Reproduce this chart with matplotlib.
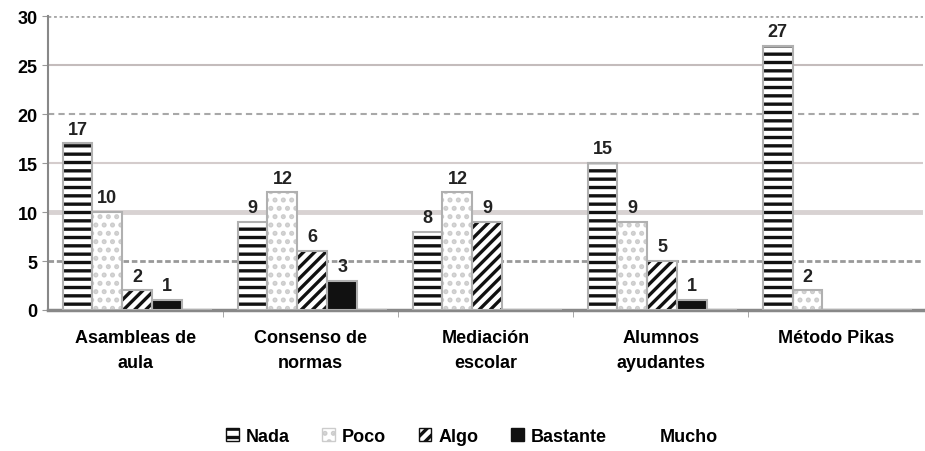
import numpy as np
import matplotlib
matplotlib.use("Agg")
import matplotlib.pyplot as plt
from matplotlib.patches import Patch

plt.rcParams['font.family'] = ['Liberation Sans', 'DejaVu Sans']
plt.rcParams['hatch.linewidth'] = 2.4

categorias = ['Asambleas de\naula', 'Consenso de\nnormas', 'Mediación\nescolar',
              'Alumnos\nayudantes', 'Método Pikas']
series = ['Nada', 'Poco', 'Algo', 'Bastante', 'Mucho']
nada = [17, 9, 8, 15, 27]
poco = [10, 12, 12, 9, 2]
algo = [2, 6, 9, 5, 0]
bastante = [1, 3, 0, 1, 0]
mucho = [0, 0, 0, 0, 0]
valores = [nada, poco, algo, bastante, mucho]

estilos = [
    dict(facecolor='white', hatch='--', edgecolor='#111111'),
    dict(facecolor='white', hatch='..', edgecolor='#cccccc'),
    dict(facecolor='white', hatch='///', edgecolor='#111111'),
    dict(facecolor='#111111', hatch=None, edgecolor='#111111'),
    dict(facecolor='white', hatch=None, edgecolor='white'),
]

fig = plt.figure(figsize=(9.25, 4.52), dpi=100)
ax = fig.add_axes([0.052, 0.312, 0.946, 0.650])

x = np.arange(len(categorias))
ancho = 0.171
for i, (nombre, vals, st) in enumerate(zip(series, valores, estilos)):
    pos = x + (i - 2) * ancho + 0.01
    bars = ax.bar(pos, vals, ancho, linewidth=0, zorder=3, **st)
    # borde gris de cada barra
    ax.bar(pos, vals, ancho, fill=False, edgecolor='#b0b0b0', linewidth=1.5, zorder=4)
    for b, v in zip(bars, vals):
        if v > 0:
            ax.text(b.get_x() + b.get_width() / 2, v + 0.6, str(v), ha='center', va='bottom',
                    fontsize=13, fontweight='bold', color='#222222')

ax.set_xlim(-0.5, len(categorias) - 0.5)
ax.set_ylim(0, 30)
ax.set_yticks(np.arange(0, 31, 5))

# lineas de cuadricula con estilos distintos como en el original
rejilla = {
    30: dict(color='#a8a8a8', linewidth=2, linestyle=(0, (1, 1))),
    25: dict(color='#c4bcbc', linewidth=1.5, linestyle='-'),
    20: dict(color='#a8a8a8', linewidth=1.5, linestyle=(0, (3, 2))),
    15: dict(color='#d4cccc', linewidth=1.5, linestyle='-'),
    10: dict(color='#d8d2d2', linewidth=3.5, linestyle='-'),
    5: dict(color='#999999', linewidth=2, linestyle=(0, (2, 1))),
}
for yv, kw in rejilla.items():
    ax.axhline(yv, zorder=0, **kw)

ax.set_xticks(x)
ax.set_xticklabels(categorias, fontsize=13, fontweight='bold', linespacing=1.6)
ax.set_xticks(np.arange(0.5, len(categorias) - 0.5, 1), minor=True)
ax.tick_params(axis='x', which='major', length=0, pad=14)
ax.tick_params(axis='x', which='minor', length=5, color='#999999')
ax.tick_params(axis='y', labelsize=13, length=4, color='#999999')
for lbl in ax.get_yticklabels():
    lbl.set_fontweight('bold')
for s in ['top', 'right']:
    ax.spines[s].set_visible(False)
ax.spines['left'].set_color('#888888')
ax.spines['left'].set_linestyle((0, (2, 1)))
ax.spines['left'].set_linewidth(1.5)
ax.spines['bottom'].set_color('#888888')
ax.spines['bottom'].set_linewidth(2.5)

handles = [Patch(label=n, **st) for n, st in zip(series, estilos)]
fig.legend(handles=handles, loc='center', bbox_to_anchor=(0.51, 0.033), ncol=5,
           frameon=False, prop={'weight': 'bold', 'size': 13},
           handlelength=0.7, handleheight=0.7, handletextpad=0.4, columnspacing=1.8)

fig.savefig('out.png', dpi=100)
